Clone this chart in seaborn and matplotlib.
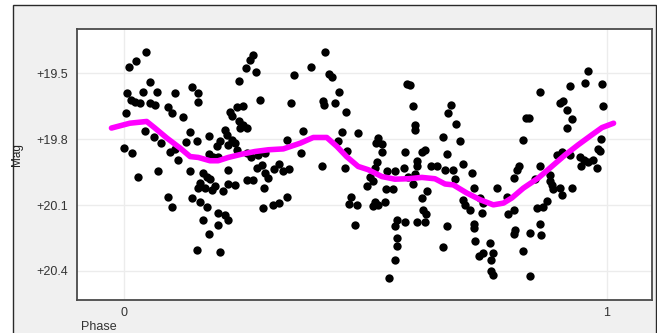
import matplotlib
matplotlib.use("Agg")
import matplotlib.pyplot as plt
from matplotlib.patches import Rectangle
import seaborn as sns
import pandas as pd

# ---- data ----
phase = [
    0.046, 0.025, 0.011, 0.054, 0.007, 0.039, 0.068, 0.106, 0.014, 0.023,
    0.033, 0.054, 0.064, 0.092, 0.099, 0.123, 0.004, 0.044, 0.062, 0.076,
    0.000, 0.016, 0.095, 0.106, 0.112, 0.071, 0.030, 0.092, 0.099, 0.128,
    0.268, 0.261, 0.252, 0.273, 0.238, 0.141, 0.153, 0.154, 0.282, 0.247,
    0.233, 0.220, 0.223, 0.238, 0.247, 0.254, 0.240, 0.209, 0.136, 0.151,
    0.175, 0.213, 0.223, 0.199, 0.192, 0.216, 0.230, 0.233, 0.175, 0.185,
    0.195, 0.254, 0.264, 0.278, 0.292, 0.137, 0.164, 0.171, 0.178, 0.216,
    0.254, 0.268, 0.275, 0.285, 0.292, 0.299, 0.157, 0.154, 0.168, 0.182,
    0.206, 0.216, 0.230, 0.289, 0.140, 0.157, 0.171, 0.195, 0.209, 0.216,
    0.164, 0.195, 0.175, 0.287, 0.309, 0.151, 0.199, 0.188,
    0.416, 0.387, 0.352, 0.425, 0.430, 0.446, 0.345, 0.413, 0.415, 0.437,
    0.460, 0.371, 0.451, 0.485, 0.338, 0.444, 0.461, 0.366, 0.322, 0.311,
    0.330, 0.342, 0.410, 0.458, 0.338, 0.321, 0.471, 0.465, 0.483, 0.479,
    0.586, 0.593, 0.599, 0.602, 0.602, 0.527, 0.521, 0.535, 0.582, 0.535,
    0.624, 0.617, 0.606, 0.606, 0.523, 0.520, 0.636, 0.648, 0.544, 0.561,
    0.579, 0.589, 0.603, 0.510, 0.516, 0.503, 0.542, 0.558, 0.599, 0.627,
    0.617, 0.520, 0.526, 0.516, 0.541, 0.620, 0.625, 0.565, 0.582, 0.606,
    0.624, 0.561, 0.565, 0.565, 0.561, 0.548,
    0.677, 0.672, 0.688, 0.833, 0.838, 0.661, 0.695, 0.827, 0.669, 0.702,
    0.665, 0.682, 0.720, 0.819, 0.815, 0.686, 0.808, 0.724, 0.772, 0.702,
    0.706, 0.717, 0.737, 0.744, 0.741, 0.793, 0.807, 0.796, 0.669, 0.724,
    0.725, 0.810, 0.807, 0.661, 0.726, 0.758, 0.743, 0.736, 0.765, 0.761,
    0.761, 0.765, 0.827, 0.840, 0.840,
    0.961, 0.954, 0.990, 0.924, 0.862, 0.903, 0.910, 0.917, 0.993, 0.927,
    0.917, 0.987, 0.981, 0.985, 0.896, 0.907, 0.924, 0.945, 0.952, 0.962,
    0.972, 0.947, 0.979, 0.862, 0.851, 0.883, 0.883, 0.886, 0.889, 0.903,
    0.927, 0.908, 0.876, 0.868, 0.855, 0.861, 0.864,
]
mag = [
    19.401, 19.443, 19.469, 19.540, 19.590, 19.583, 19.583, 19.590, 19.621, 19.631,
    19.636, 19.636, 19.643, 19.651, 19.681, 19.697, 19.681, 19.762, 19.788, 19.818,
    19.840, 19.863, 19.856, 19.844, 19.894, 19.947, 19.974, 20.061, 20.111, 19.813,
    19.416, 19.439, 19.474, 19.492, 19.534, 19.560, 19.590, 19.631, 19.621, 19.647,
    19.651, 19.674, 19.692, 19.719, 19.734, 19.749, 19.749, 19.757, 19.765, 19.807,
    19.783, 19.780, 19.803, 19.810, 19.833, 19.825, 19.818, 19.848, 19.868, 19.879,
    19.879, 19.863, 19.879, 19.871, 19.863, 19.947, 19.954, 19.970, 19.980, 19.939,
    19.985, 19.985, 19.932, 19.916, 19.954, 19.977, 19.998, 20.023, 20.023, 20.030,
    20.038, 20.004, 20.008, 20.023, 20.068, 20.086, 20.111, 20.136, 20.144, 20.167,
    20.167, 20.190, 20.232, 20.114, 20.101, 20.303, 20.316, 20.015,
    19.404, 19.469, 19.507, 19.504, 19.515, 19.583, 19.637, 19.625, 19.643, 19.633,
    19.674, 19.762, 19.765, 19.772, 19.803, 19.810, 19.853, 19.863, 19.913, 19.935,
    19.947, 19.935, 19.920, 19.929, 20.061, 20.091, 20.061, 20.095, 20.099, 20.190,
    19.549, 19.552, 19.647, 19.734, 19.757, 19.795, 19.818, 19.822, 19.859, 19.856,
    19.848, 19.859, 19.898, 19.920, 19.904, 19.929, 19.924, 19.920, 19.947, 19.944,
    19.932, 19.970, 19.959, 19.974, 19.992, 20.015, 20.026, 20.026, 20.004, 20.038,
    20.068, 20.084, 20.099, 20.106, 20.084, 20.121, 20.141, 20.167, 20.175, 20.175,
    20.175, 20.197, 20.250, 20.288, 20.349, 20.432,
    19.643, 19.681, 19.731, 19.701, 19.701, 19.792, 19.807, 19.803, 19.868, 19.913,
    19.939, 19.939, 19.952, 19.924, 19.939, 19.980, 19.977, 20.020, 20.020, 20.076,
    20.099, 20.121, 20.068, 20.091, 20.136, 20.065, 20.121, 20.141, 20.197, 20.186,
    20.205, 20.212, 20.232, 20.293, 20.266, 20.273, 20.318, 20.334, 20.318, 20.349,
    20.402, 20.420, 20.311, 20.227, 20.425,
    19.489, 19.545, 19.549, 19.557, 19.583, 19.636, 19.625, 19.666, 19.647, 19.707,
    19.747, 19.798, 19.844, 19.853, 19.874, 19.856, 19.871, 19.883, 19.894, 19.904,
    19.894, 19.924, 19.929, 19.920, 19.980, 19.962, 19.989, 20.008, 20.026, 20.023,
    20.020, 20.056, 20.080, 20.111, 20.114, 20.186, 20.235,
]

fit_phase = [
    -0.026, 0.012, 0.047, 0.064, 0.089, 0.116, 0.137, 0.154, 0.178, 0.195,
    0.216, 0.244, 0.271, 0.299, 0.330, 0.365, 0.392, 0.420, 0.441, 0.461,
    0.485, 0.506, 0.534, 0.561, 0.589, 0.617, 0.644, 0.665, 0.682, 0.710,
    0.738, 0.765, 0.786, 0.803, 0.827, 0.858, 0.886, 0.914, 0.941, 0.969,
    0.990, 1.014,
]
fit_mag = [
    19.749, 19.727, 19.719, 19.749, 19.795, 19.840, 19.879, 19.883, 19.898, 19.898,
    19.883, 19.868, 19.856, 19.848, 19.844, 19.818, 19.792, 19.792, 19.833, 19.879,
    19.924, 19.939, 19.970, 19.982, 19.980, 19.974, 19.980, 20.004, 20.008, 20.045,
    20.076, 20.099, 20.091, 20.068, 20.023, 19.977, 19.924, 19.871, 19.825, 19.780,
    19.747, 19.727,
]

y_ticks = [19.5, 19.8, 20.1, 20.4]
y_labels = ["+19.5", "+19.8", "+20.1", "+20.4"]
x_ticks = [0, 1]
x_labels = ["0", "1"]

pts = pd.DataFrame({"Phase": phase, "Mag": mag})
fit = pd.DataFrame({"Phase": fit_phase, "Mag": fit_mag})

# ---- figure ----
sns.set_theme(style="white")
plt.rcParams["font.family"] = ["Liberation Sans", "DejaVu Sans"]

W, H = 657, 333
fig = plt.figure(figsize=(W / 100, H / 100), dpi=100, facecolor="white")
# outer panel (drawn behind the axes)
panel = Rectangle((12.7 / W, -0.01), (656.3 - 12.7) / W, 1.01 - 5.3 / H,
                  transform=fig.transFigure, facecolor="#f0f0f0",
                  edgecolor="#2a2a2a", linewidth=1.0)
panel.set_zorder(-10)
fig.add_artist(panel)

left, right, top, bottom = 76.7, 651.7, 29.3, 300.3
ax = fig.add_axes([left / W, 1 - bottom / H, (right - left) / W, (bottom - top) / H])
ax.set_zorder(1)
ax.set_facecolor("white")

sns.scatterplot(data=pts, x="Phase", y="Mag", ax=ax, color="black", s=36,
                linewidth=0, zorder=3, legend=False)
sns.lineplot(data=fit, x="Phase", y="Mag", ax=ax, color="#ff00ff", linewidth=4.0,
             sort=False, zorder=4, legend=False)

ax.set_xlim(-0.098, 1.093)
ax.set_ylim(20.534, 19.299)
ax.set_xticks(x_ticks)
ax.set_xticklabels(x_labels)
ax.set_yticks(y_ticks)
ax.set_yticklabels(y_labels)
ax.grid(True, color="#ececec", linewidth=1.0, zorder=0)
ax.set_axisbelow(True)
ax.tick_params(axis="both", length=0, labelsize=9, labelcolor="#333333")
ax.tick_params(axis="y", pad=6.3)
ax.tick_params(axis="x", pad=4.5)
ax.set_xlabel("")
ax.set_ylabel("")
for sp in ax.spines.values():
    sp.set_visible(True)
    sp.set_color("#4a4a4a")
    sp.set_linewidth(1.3)

fig.text(17 / W, 1 - 155 / H, "Mag", rotation=90, ha="center", va="center",
         fontsize=8.5, color="#222222", zorder=5)
fig.text(80.7 / W, 1 - 327.5 / H, "Phase", ha="left", va="center",
         fontsize=9, color="#333333", zorder=5)

fig.savefig("out.png", dpi=100, facecolor=fig.get_facecolor())
